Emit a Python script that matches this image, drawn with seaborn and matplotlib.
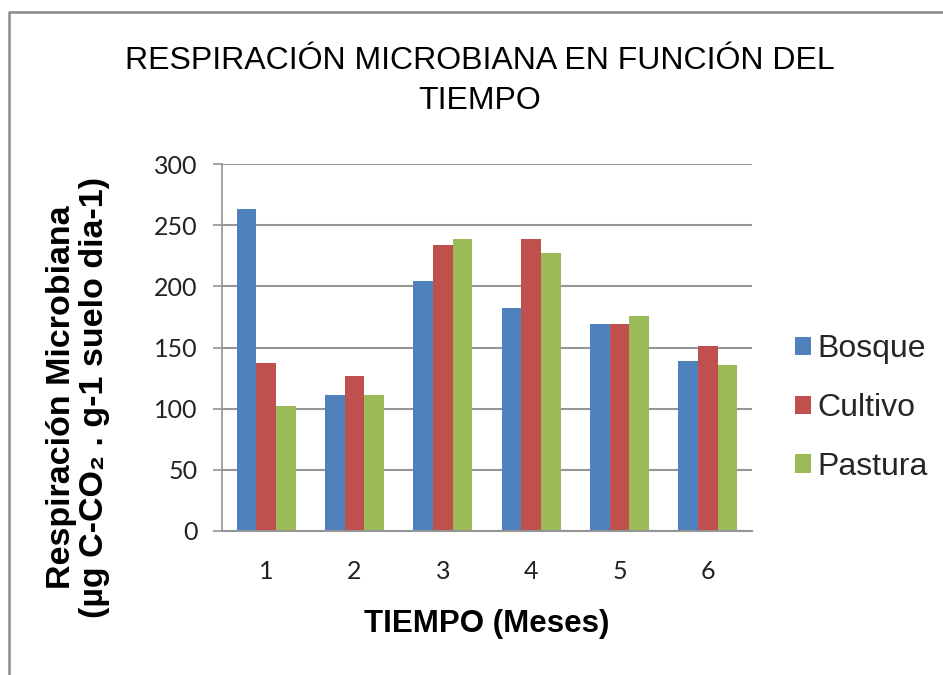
import matplotlib
matplotlib.use('Agg')
import matplotlib.pyplot as plt
from matplotlib.lines import Line2D
from matplotlib.patches import Patch
import pandas as pd
import seaborn as sns

# Data
meses = ['1', '2', '3', '4', '5', '6']
bosque = [263, 111, 204, 182, 169, 139]
cultivo = [137, 127, 234, 239, 169, 151]
pastura = [102, 111, 239, 227, 176, 136]
series = ['Bosque', 'Cultivo', 'Pastura']
colores = ['#4F81BD', '#C0504D', '#9BBB59']

df = pd.DataFrame({
    'mes': meses * 3,
    'valor': bosque + cultivo + pastura,
    'tipo': [s for s in series for _ in meses],
})

sns.set_style('white')
plt.rcParams['font.family'] = ['Liberation Sans', 'DejaVu Sans']

fig = plt.figure(figsize=(9.43, 6.75), dpi=100)
ax = fig.add_axes([222 / 943, 1 - 531 / 675, 530 / 943, 367 / 675])

sns.barplot(data=df, x='mes', y='valor', hue='tipo', palette=colores,
            width=0.67, saturation=1, linewidth=0, ax=ax, legend=False)

ax.set_ylim(0, 300)
ax.set_xlim(-0.5, 5.5)
ax.set_yticks(range(0, 301, 50))
ax.yaxis.grid(True, color='#959595', linewidth=1.5)
ax.set_axisbelow(True)
for side in ['top', 'right']:
    ax.spines[side].set_visible(False)
ax.spines['left'].set_color('#959595')
ax.spines['bottom'].set_color('#959595')
ax.spines['left'].set_linewidth(1.2)
ax.spines['bottom'].set_linewidth(1.5)

# tick labels (Calibri-like in the reference, Lato is the closest here)
tick_font = {'family': ['Lato', 'DejaVu Sans'], 'size': 18}
ax.set_xticks(range(len(meses)))
ax.set_xticklabels(meses, fontdict=tick_font, color='#222222')
ax.set_yticklabels([str(v) for v in range(0, 301, 50)], fontdict=tick_font, color='#222222')
ax.tick_params(axis='x', length=0, pad=21)
ax.tick_params(axis='y', length=6.5, width=1.2, color='#959595', pad=11, left=True)
ax.set_xlabel('')
ax.set_ylabel('')

# Title
fig.text(480 / 943, 1 - 81 / 675,
         'RESPIRACIÓN MICROBIANA EN FUNCIÓN DEL\nTIEMPO',
         ha='center', va='center', fontsize=23, linespacing=1.4, color='black')

# Axis labels
fig.text(487 / 943, 1 - 624 / 675, 'TIEMPO (Meses)', ha='center', va='center',
         fontsize=22.5, fontweight='bold', color='black')
fig.text(78 / 943, 1 - 397 / 675,
         'Respiración Microbiana\n(µg C-CO₂ . g-1 suelo dia-1)',
         ha='center', va='center', rotation=90, fontsize=24.5, fontweight='bold',
         linespacing=1.05, color='black')

# Legend
handles = [Patch(facecolor=c, edgecolor='none') for c in colores]
fig.legend(handles, series, loc='center left',
           bbox_to_anchor=(795 / 943, 1 - 408 / 675), frameon=False,
           fontsize=23, handlelength=0.5, handleheight=0.5,
           handletextpad=0.2, labelspacing=0.9, borderpad=0, borderaxespad=0)

# Outer frame (left and top edges visible in the reference)
fig.add_artist(Line2D([9 / 943, 9 / 943, 1], [0, 1 - 12 / 675, 1 - 12 / 675],
                      transform=fig.transFigure, color='#8a8a8a', linewidth=1.8))

fig.savefig('out.png', dpi=100)
